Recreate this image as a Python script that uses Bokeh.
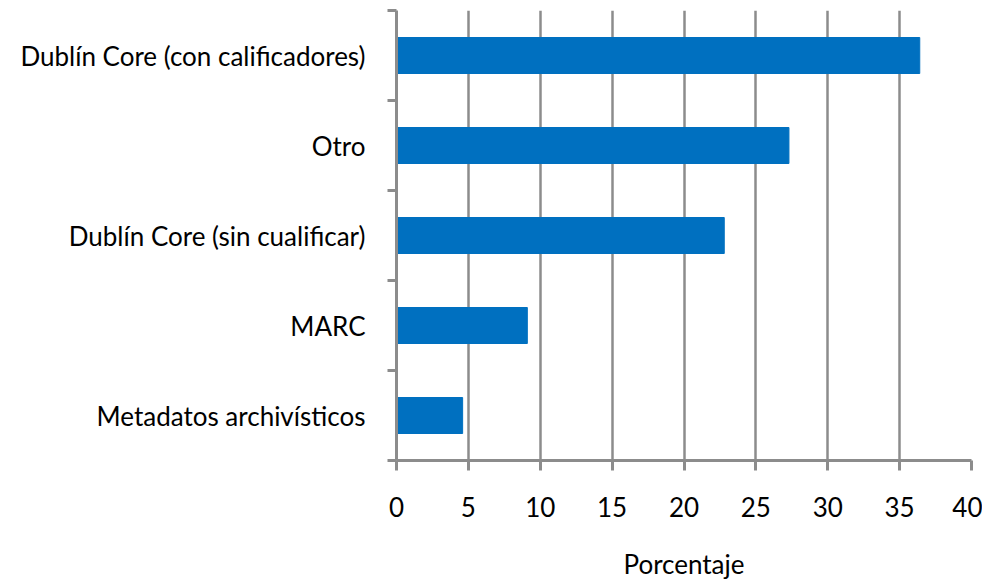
from bokeh.plotting import figure
from bokeh.models import Range1d, FixedTicker, ColumnDataSource
from bokeh.embed import file_html
from bokeh.resources import INLINE

categories = ["Metadatos archivísticos", "MARC", "Dublín Core (sin cualificar)", "Otro",
              "Dublín Core (con calificadores)"]
values = [4.6, 9.1, 22.8, 27.3, 36.4]
x_ticks = [0, 5, 10, 15, 20, 25, 30, 35, 40]

positions = [i + 0.5 for i in range(len(categories))]
src = ColumnDataSource(dict(y=positions, v=values, cat=categories))

FONT = "Lato"
FS = "26px"
GRAY = "#8c8c8c"

p = figure(width=982, height=582, output_backend="svg", toolbar_location=None,
           x_range=Range1d(0, 40), y_range=Range1d(0, len(categories)),
           min_border_left=396, min_border_right=11, min_border_top=10, min_border_bottom=122)
p.outline_line_color = None

p.hbar(y="y", right="v", left=0, height=0.4, source=src, color="#0070C0")

# x axis
p.xaxis.ticker = FixedTicker(ticks=x_ticks)
p.xaxis.axis_line_color = GRAY
p.xaxis.axis_line_width = 3
p.xaxis.major_tick_line_color = GRAY
p.xaxis.major_tick_line_width = 3
p.xaxis.major_tick_out = 10
p.xaxis.major_tick_in = 0
p.xaxis.minor_tick_line_color = None
p.xaxis.major_label_text_font = FONT
p.xaxis.major_label_text_font_size = FS
p.xaxis.major_label_text_color = "#000000"
p.xaxis.major_label_standoff = 26
p.xaxis.axis_label = "Porcentaje"
p.xaxis.axis_label_text_font = FONT
p.xaxis.axis_label_text_font_size = FS
p.xaxis.axis_label_text_font_style = "normal"
p.xaxis.axis_label_text_color = "#000000"
p.xaxis.axis_label_standoff = 28

# y axis: labels at category centres, tick marks at boundaries
p.yaxis.ticker = FixedTicker(ticks=positions, minor_ticks=list(range(len(categories) + 1)))
p.yaxis.major_label_overrides = {pos: c for pos, c in zip(positions, categories)}
p.yaxis.axis_line_color = GRAY
p.yaxis.axis_line_width = 3
p.yaxis.major_tick_line_color = None
p.yaxis.minor_tick_line_color = GRAY
p.yaxis.minor_tick_line_width = 3
p.yaxis.minor_tick_out = 9
p.yaxis.minor_tick_in = 0
p.yaxis.major_label_text_font = FONT
p.yaxis.major_label_text_font_size = FS
p.yaxis.major_label_text_color = "#000000"
p.yaxis.major_label_standoff = 22

p.xgrid.grid_line_color = GRAY
p.xgrid.grid_line_width = 2.5
p.ygrid.grid_line_color = None

open("out.html", "w").write(file_html(p, INLINE))
